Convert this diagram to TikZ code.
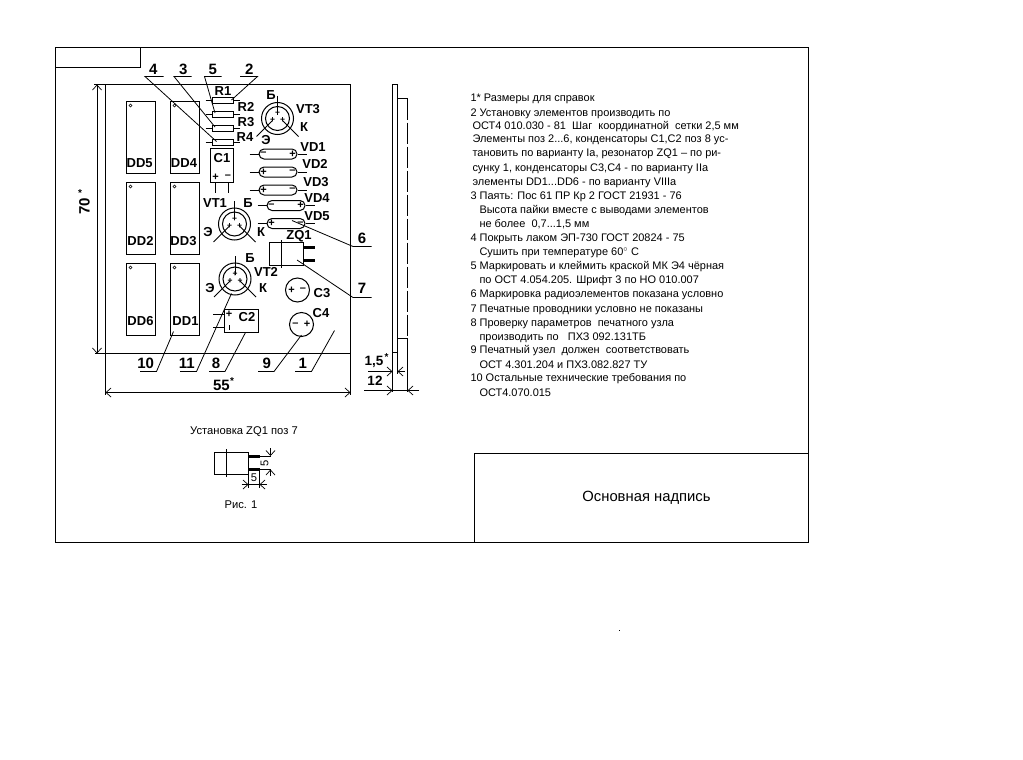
\documentclass[tikz,border=0pt]{standalone}
\usepackage{fontspec}
\setmainfont{Liberation Sans}
\usetikzlibrary{arrows.meta,calc}
\tikzset{
  base/.style={line width=1pt,line cap=butt,line join=miter},
  dimen/.style={line width=.9pt,{Straight Barb[length=5pt,width=9pt,line width=.7pt]}-{Straight Barb[length=5pt,width=9pt,line width=.7pt]}},
  dimend/.style={line width=.9pt,-{Straight Barb[length=5pt,width=9pt,line width=.7pt]}},
  leader/.style={line width=.8pt},
  lab/.style={inner sep=0pt,font=\fontsize{13}{14}\selectfont\bfseries},
  num/.style={inner sep=0pt,font=\fontsize{15}{16}\selectfont\bfseries},
  sign/.style={inner sep=0pt,font=\fontsize{11}{12}\selectfont\bfseries},
  pinsign/.style={inner sep=0pt,font=\fontsize{8.5}{9}\selectfont\bfseries},
  star/.style={inner sep=0pt,font=\fontsize{10}{10}\selectfont\bfseries},
  note/.style={inner sep=0pt,anchor=base west,font=\fontsize{10.97}{12}\selectfont},
  plain/.style={inner sep=0pt,font=\fontsize{11.2}{12}\selectfont},
  icbox/.style={draw,line width=1pt,anchor=north west,inner sep=0pt,minimum width=29pt,minimum height=72pt},
  rbody/.style={draw,line width=1pt,fill=white,inner sep=0pt,minimum width=21pt,minimum height=6pt},
  caps/.style={draw,line width=1pt,fill=white,rounded corners=5pt,inner sep=0pt,minimum width=38pt,minimum height=10pt},
  thicklead/.style={line width=3pt}
}
\newcommand{\icchip}[2]{% name, x y corner
  \node[icbox] (#1) at (#2) {};
  \draw[line width=.6pt,fill=white] ($(#1.north west)+(5,5)$) +(-1.5,0) -- +(0,-1.5) -- +(1.5,0) -- +(0,1.5) -- cycle;
}
\newcommand{\resistor}[2]{%
  \node[rbody] (#1) at (#2) {};
  \draw[base] ($(#1.west)+(-6,0)$) -- (#1.west) (#1.east) -- ($(#1.east)+(6,0)$);
}
\newcommand{\transistor}[2]{%
  \coordinate (#1) at (#2);
  \draw[base] (#1) circle[radius=16pt] (#1) circle[radius=12pt];
  \draw[leader] ($(#1)+(0,-23)$) -- ($(#1)+(0,-4)$);
  \draw[leader] ($(#1)+(-5,2)$) -- ($(#1)+(-21,18)$);
  \draw[leader] ($(#1)+(5,2)$) -- ($(#1)+(21,18)$);
  \node[pinsign] at ($(#1)+(0,-5)$) {+};
  \node[pinsign] at ($(#1)+(-5,2)$) {+};
  \node[pinsign] at ($(#1)+(5,2)$) {+};
}
\newcommand{\diode}[4]{% name, centre, left sign, right sign
  \node[caps] (#1) at (#2) {};
  \draw[base] ($(#1.west)+(-9,0)$) -- (#1.west) (#1.east) -- ($(#1.east)+(9,0)$);
  \node[sign] at ($(#1.west)+(5,0)$) {#3};
  \node[sign] at ($(#1.east)+(-5,0)$) {#4};
}
\begin{document}
\begin{tikzpicture}[x=1pt,y=-1pt,base]
\useasboundingbox (0,0) rectangle (1023,760);
\fill[white] (0,0) rectangle (1023,760);
% frame
\draw[base] (55.5,47.5) rectangle (808.5,542.5);
\draw[base] (55.5,67.5) -- (140.5,67.5) -- (140.5,47.5);
\draw[base] (474.5,542.5) -- (474.5,453.5) -- (808.5,453.5);
\node[inner sep=0pt,font=\fontsize{14.8}{16}\selectfont] (title) at (646.5,498) {Основная надпись};
% board
\coordinate (tl) at (105.5,84.5);
\coordinate (tr) at (350.5,84.5);
\draw[base] (94,84.5) -- (tr) -- (350.5,395);
\draw[base] (105.5,84.5) -- (105.5,395);
\draw[base] (95,353.5) -- (350.5,353.5);
% dims
\coordinate (d70a) at (97,84.5);
\coordinate (d70b) at (97,353.5);
\draw[dimen] (d70a) -- (d70b);
\node[num,rotate=90] (d70) at (84.5,206) {70};
\node[star] (d70s) at (80,193) {*};
\coordinate (d55a) at (105.5,392.5);
\coordinate (d55b) at (350.5,392.5);
\draw[dimen] (d55a) -- (d55b);
\node[num] (d55) at (221.5,385) {55};
\node[star] (d55s) at (232,381) {*};
% chips
\icchip{DD5c}{125.5,100.5}
\icchip{DD4c}{169.5,100.5}
\icchip{DD2c}{125.5,181.5}
\icchip{DD3c}{169.5,181.5}
\icchip{DD6c}{125.5,262.5}
\icchip{DD1c}{169.5,262.5}
\node[lab] (DD5) at (139.7,163) {DD5};
\node[lab] (DD4) at (184,163) {DD4};
\node[lab] (DD2) at (140.5,241) {DD2};
\node[lab] (DD3) at (183.5,241) {DD3};
\node[lab] (DD6) at (140.5,321) {DD6};
\node[lab] (DD1) at (185.5,321) {DD1};
% resistors
\resistor{Ra}{222.5,100}
\resistor{Rb}{222.5,114.5}
\resistor{Rc}{222.5,128.5}
\resistor{Rd}{222.5,142.5}
\node[lab] (R1) at (223,91) {R1};
\node[lab] (R2) at (246,107) {R2};
\node[lab] (R3) at (246,122) {R3};
\node[lab] (R4) at (245,137) {R4};
% C1
\node[draw,line width=1pt,inner sep=0pt,minimum width=23pt,minimum height=34pt] (Ca) at (222,165.5) {};
\draw[base] (215.5,182.5) -- (215.5,193) (228.5,182.5) -- (228.5,193);
\node[lab] (C1) at (222,158) {C1};
\node[sign] at (215.5,177) {+};
\node[sign] at (228,177) {--};
% transistors
\transistor{Ta}{277.5,118.5}
\transistor{Tb}{234.5,224}
\transistor{Tc}{235,279}
\node[lab] (VT3) at (308,109) {VT3};
\node[lab] at (271,95) {Б};
\node[lab] at (304,127) {К};
\node[lab] at (266,140) {Э};
\node[lab] (VT1) at (215,203) {VT1};
\node[lab] at (248,203) {Б};
\node[lab] at (208,232) {Э};
\node[lab] at (261,232) {К};
\node[lab] (VT2) at (266,272) {VT2};
\node[lab] at (250,258) {Б};
\node[lab] at (210,288) {Э};
\node[lab] at (263,288) {К};
% diodes
\diode{Da}{278,154}{--}{+}
\diode{Db}{278,172}{+}{--}
\diode{Dc}{278,190}{+}{--}
\diode{Dd}{286,205.5}{--}{+}
\diode{De}{286,223.5}{+}{--}
\node[lab] (VD1) at (313,147) {VD1};
\node[lab] (VD2) at (315,164) {VD2};
\node[lab] (VD3) at (316,182) {VD3};
\node[lab] (VD4) at (317,198) {VD4};
\node[lab] (VD5) at (317,216) {VD5};
% ZQ1
\node[draw,line width=1pt,inner sep=0pt,minimum width=34pt,minimum height=23pt] (Zq) at (286.5,254) {};
\draw[base] (281.5,240) -- (281.5,268);
\draw[thicklead] (Zq.east |- 0,247) -- (315,247) (Zq.east |- 0,260.5) -- (315,260.5);
\node[lab] (ZQ1) at (299,236) {ZQ1};
% C3 C4
\node[draw,circle,line width=1pt,minimum size=24pt,inner sep=0pt] (Ce) at (297.5,290) {};
\node[sign] at (291.5,290) {+};
\node[sign] at (303,290) {--};
\node[lab] (C3) at (322,293) {C3};
\node[draw,circle,line width=1pt,minimum size=24pt,inner sep=0pt] (Cf) at (301.5,324.5) {};
\node[sign] at (295.5,324.5) {--};
\node[sign] at (307,324.5) {+};
\node[lab] (C4) at (321,313) {C4};
% C2
\node[draw,line width=1pt,inner sep=0pt,minimum width=34pt,minimum height=23pt] (Cb) at (241.5,321) {};
\draw[base] (213,314.5) -- (Cb.west |- 0,314.5) (213,327.5) -- (Cb.west |- 0,327.5);
\node[sign] at (229,314.5) {+};
\draw[base] (229.5,325) -- (229.5,330);
\node[lab] (C2) at (247,317) {C2};
% callouts top
\node[num] (n4) at (153.3,69) {4};
\node[num] (n3) at (183.3,69) {3};
\node[num] (n5) at (212.7,69) {5};
\node[num] (n2) at (249.3,69) {2};
\draw[leader] (163.5,76.5) -- (145,76.5) -- (216.5,141.5);
\draw[leader] (191.5,76.5) -- (174,76.5) -- (215,127);
\draw[leader] (221.5,76.5) -- (204.5,76.5) -- (215,113);
\draw[leader] (240,76.5) -- (257.5,76.5) -- (231.5,100);
% callouts right
\node[num] (n6) at (362,238) {6};
\node[num] (n7) at (362,288) {7};
\draw[leader] (371.5,246.5) -- (353,246.5) -- (292,220.5);
\draw[leader] (371.5,297.5) -- (353,297.5) -- (297,260);
% callouts bottom
\node[num] (n10) at (145.7,363) {10};
\node[num] (n11) at (186.7,363) {11};
\node[num] (n8) at (216,363) {8};
\node[num] (n9) at (266.7,363) {9};
\node[num] (n1) at (302.7,363) {1};
\draw[leader] (140,371.5) -- (156.5,371.5) -- (173.5,331.5);
\draw[leader] (180,371.5) -- (196.5,371.5) -- (231.5,293.5);
\draw[leader] (209,371.5) -- (225,371.5) -- (245.5,332.5);
\draw[leader] (258,371.5) -- (274,371.5) -- (301.5,335);
\draw[leader] (295,371.5) -- (311.5,371.5) -- (334.5,330.5);
% side view
\draw[base] (392.5,373) -- (392.5,84.5) -- (397.5,84.5) -- (397.5,352.5) -- (392.5,352.5);
\draw[base] (397.5,98.5) -- (407.5,98.5);
\draw[base] (397.5,338.5) -- (407.5,338.5);
\draw[base,dash pattern=on 21pt off 3pt] (407.5,98.5) -- (407.5,338.5);
\draw[base] (392.5,352) -- (392.5,392) (397.5,352) -- (397.5,374) (407.5,338.5) -- (407.5,392);
\coordinate (sa) at (368,371.5);
\coordinate (sb) at (392.5,371.5);
\coordinate (sc) at (397.5,371.5);
\coordinate (sd) at (405,371.5);
\draw[dimend] (sa) -- (sb);
\draw[dimend] (sd) -- (sc);
\coordinate (se) at (364,390.5);
\coordinate (sf) at (392.5,390.5);
\coordinate (sg) at (407.5,390.5);
\coordinate (sh) at (419,390.5);
\draw[dimend] (se) -- (sf);
\draw[dimend] (sh) -- (sg);
\draw[leader] (sf) -- (sg);
\node[num,font=\fontsize{13.5}{14}\selectfont\bfseries] (d15) at (374,362) {1,5};
\node[star] (d15s) at (386.5,357) {*};
\node[num,font=\fontsize{13.5}{14}\selectfont\bfseries] (d12) at (375,381) {12};
% detail
\node[plain] (cap) at (244,432) {Установка ZQ1 поз 7};
\node[plain] (fig) at (241,505) {Рис. 1};
\node[draw,line width=1pt,inner sep=0pt,minimum width=34pt,minimum height=22pt] (Zr) at (231,463) {};
\draw[base] (226.5,449) -- (226.5,477);
\draw[thicklead] (248,456) -- (260,456) (248,469.5) -- (260,469.5);
\draw[leader] (260,456) -- (271,456) (260,469.5) -- (271,469.5);
\draw[leader] (248.5,469) -- (248.5,488) (259.5,469) -- (259.5,488);
\coordinate (va) at (270.5,448);
\coordinate (vb) at (270.5,456);
\coordinate (vc) at (270.5,476);
\coordinate (vd) at (270.5,469.5);
\draw[dimend] (va) -- (vb);
\draw[dimend] (vc) -- (vd);
\coordinate (ha) at (241.5,484.5);
\coordinate (hb) at (248.5,484.5);
\coordinate (hc) at (267,484.5);
\coordinate (hd) at (259.5,484.5);
\draw[dimend] (ha) -- (hb);
\draw[dimend] (hc) -- (hd);
\draw[leader] (hb) -- (hd);
\node[plain,rotate=90] (v5) at (264.5,463) {5};
\node[plain] (h5) at (254,477.5) {5};
% stray dot
\fill (619,630) rectangle (620,631);
% notes
\foreach \ty/\tx/\tt in {
 102/470/{1* Размеры для справок},
 116/470/{2 Установку элементов производить по},
 129/472/{ОСТ4 010.030 - 81\ \ Шаг\ \ координатной\ \ сетки 2,5 мм},
 142/472/{Элементы поз 2...6, конденсаторы С1,С2 поз 8 ус-},
 156/472/{тановить по варианту Ia, резонатор ZQ1 -- по ри-},
 171/472/{сунку 1, конденсаторы С3,С4 - по варианту IIa},
 185/472/{элементы DD1...DD6 - по варианту VIIIa},
 199/470/{3 Паять: Пос 61 ПР Кр 2 ГОСТ 21931 - 76},
 213/479/{Высота пайки вместе с выводами элементов},
 227/479/{не более\ \ 0,7...1,5 мм},
 241/470/{4 Покрыть лаком ЭП-730 ГОСТ 20824 - 75},
 255/479/{Сушить при температуре 60$^\circ$ С},
 269/470/{5 Маркировать и клеймить краской МК Э4 чёрная},
 283/479/{по ОСТ 4.054.205. Шрифт 3 по НО 010.007},
 297/470/{6 Маркировка радиоэлементов показана условно},
 312/470/{7 Печатные проводники условно не показаны},
 326/470/{8 Проверку параметров\ \ печатного узла},
 340/479/{производить по\ \ \ ПХЗ 092.131ТБ},
 353/470/{9 Печатный узел\ \ должен\ \ соответствовать},
 368/479/{ОСТ 4.301.204 и ПХЗ.082.827 ТУ},
 381/470/{10 Остальные технические требования по},
 396/479/{ОСТ4.070.015}}
 { \node[note] at (\tx,\ty) {\tt}; }
\end{tikzpicture}
\end{document}
